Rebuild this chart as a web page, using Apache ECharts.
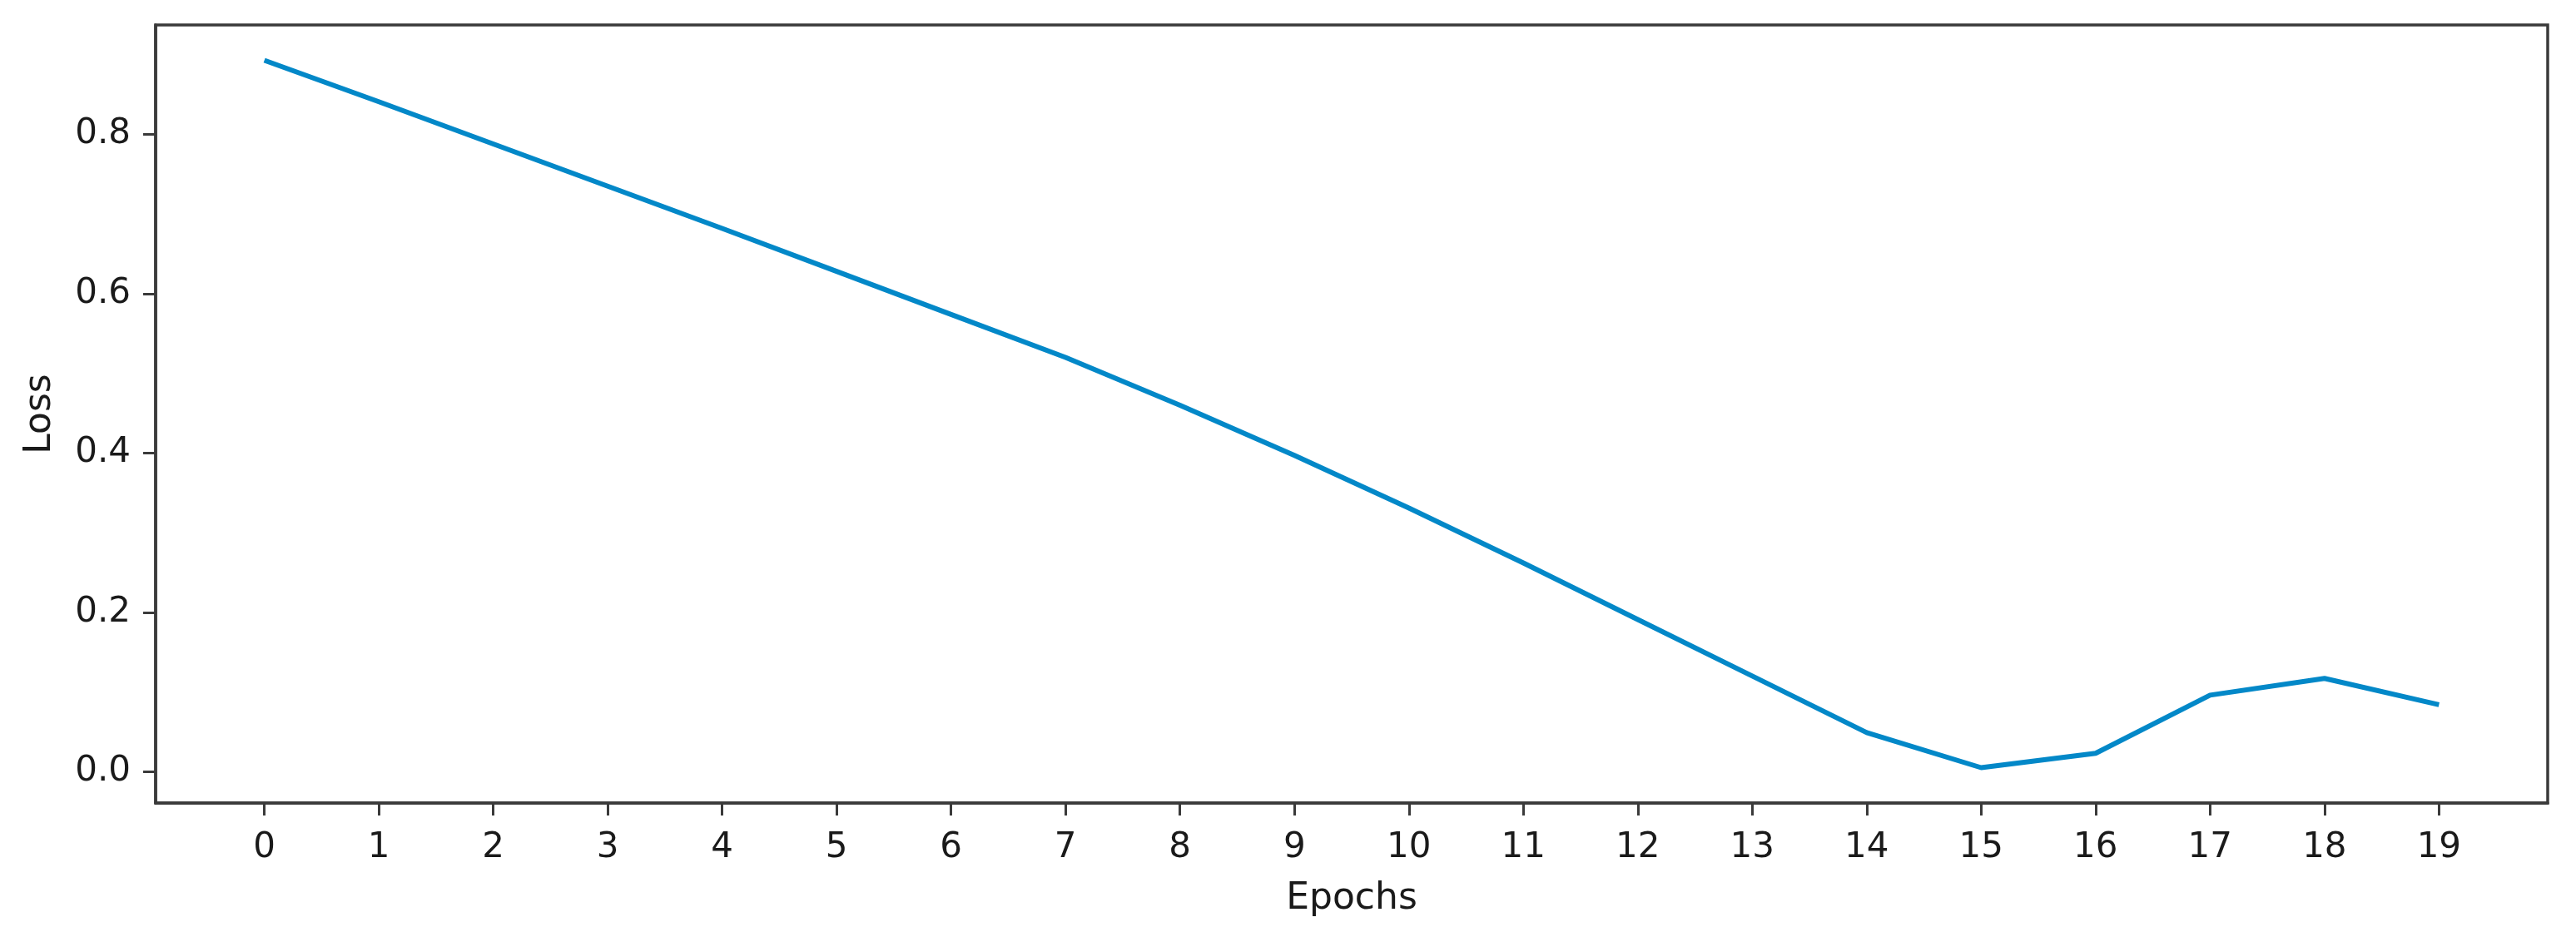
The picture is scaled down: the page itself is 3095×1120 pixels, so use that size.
<!DOCTYPE html>
<html>
<head>
<meta charset="utf-8">
<script src="https://cdn.jsdelivr.net/npm/echarts@6/dist/echarts.min.js"></script>
<style>
html,body{margin:0;padding:0;background:#fff;}
#chart{width:3095px;height:1120px;}
</style>
</head>
<body>
<div id="chart"></div>
<script>
const epochs = [0,1,2,3,4,5,6,7,8,9,10,11,12,13,14,15,16,17,18,19];
const loss = [0.893,0.841,0.788,0.735,0.682,0.628,0.574,0.520,0.460,0.397,0.331,0.262,0.191,0.120,0.049,0.005,0.023,0.096,0.117,0.084];
const yTicks = [0.0,0.2,0.4,0.6,0.8];
const yTickLabels = ['0.0','0.2','0.4','0.6','0.8'];
const xName = 'Epochs';
const yName = 'Loss';

const xmin0 = Math.min(...epochs), xmax0 = Math.max(...epochs);
const ymin0 = Math.min(...loss), ymax0 = Math.max(...loss);
const xm = 0.05*(xmax0-xmin0), ym = 0.05*(ymax0-ymin0);

const font = 'DejaVu Sans';
const txt = '#1a1a1a';
const spine = '#3a3a3a';

const chart = echarts.init(document.getElementById('chart'), null, {renderer:'canvas'});
chart.setOption({
  animation:false,
  backgroundColor:'#fff',
  grid:{left:187,right:34,top:30,bottom:155,show:true,borderColor:spine,borderWidth:3.5,backgroundColor:'#fff'},
  xAxis:{
    type:'value', min:xmin0-xm, max:xmax0+xm,
    name:xName, nameLocation:'middle', nameGap:94,
    nameTextStyle:{fontFamily:font,fontSize:44,color:txt},
    axisLine:{show:true,onZero:false,lineStyle:{color:spine,width:3.5}},
    splitLine:{show:false},
    axisTick:{show:true,inside:false,length:15,lineStyle:{color:spine,width:3},customValues:epochs},
    axisLabel:{show:true,margin:33,fontFamily:font,fontSize:42,color:txt,customValues:epochs,
      formatter:v=>String(Math.round(v))}
  },
  yAxis:{
    type:'value', min:ymin0-ym, max:ymax0+ym,
    name:yName, nameLocation:'middle', nameGap:116, nameRotate:90,
    nameTextStyle:{fontFamily:font,fontSize:44,color:txt},
    axisLine:{show:true,onZero:false,lineStyle:{color:spine,width:3.5}},
    splitLine:{show:false},
    axisTick:{show:true,inside:false,length:15,lineStyle:{color:spine,width:3},customValues:yTicks},
    axisLabel:{show:true,margin:30,fontFamily:font,fontSize:42,color:txt,customValues:yTicks,
      formatter:v=>{const i=yTicks.findIndex(t=>Math.abs(t-v)<1e-9);return i>=0?yTickLabels[i]:'';}}
  },
  series:[{
    type:'line',
    data:epochs.map((e,i)=>[e,loss[i]]),
    symbol:'none',
    lineStyle:{color:'#0388c8',width:6},
    itemStyle:{color:'#0388c8'}
  }]
});
</script>
</body>
</html>
